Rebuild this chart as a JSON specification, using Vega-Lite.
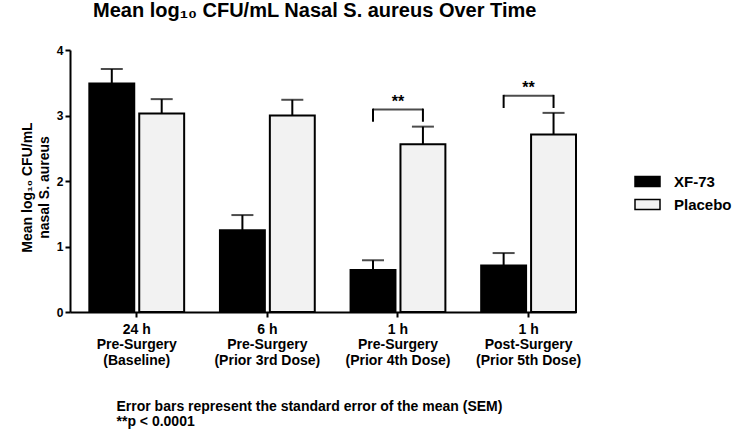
{
  "$schema": "https://vega.github.io/schema/vega-lite/v6.json",
  "width": 506,
  "height": 262,
  "autosize": {"type": "none"},
  "padding": {"left": 70, "top": 50, "right": 161, "bottom": 119},
  "background": "white",
  "config": {
    "view": {"stroke": null},
    "font": "Liberation Sans",
    "axis": {
      "domainColor": "black", "domainWidth": 2, "tickColor": "black", "tickWidth": 2, "tickSize": 5,
      "labelFont": "Liberation Sans", "labelFontWeight": "bold", "labelColor": "black",
      "titleFont": "Liberation Sans", "titleFontWeight": "bold", "titleColor": "black", "grid": false
    }
  },
  "title": {
    "text": "Mean log₁₀ CFU/mL Nasal S. aureus Over Time",
    "anchor": "start", "dx": 23, "fontSize": 20, "font": "Liberation Sans", "fontWeight": "bold",
    "color": "black", "baseline": "alphabetic", "offset": 7, "frame": "group"
  },
  "datasets": {
    "bars": [
      {"cat": "24 h|Pre-Surgery|(Baseline)", "group": "XF-73", "mean": 3.49, "upper": 3.71},
      {"cat": "24 h|Pre-Surgery|(Baseline)", "group": "Placebo", "mean": 3.03, "upper": 3.25},
      {"cat": "6 h|Pre-Surgery|(Prior 3rd Dose)", "group": "XF-73", "mean": 1.25, "upper": 1.48},
      {"cat": "6 h|Pre-Surgery|(Prior 3rd Dose)", "group": "Placebo", "mean": 3.0, "upper": 3.24},
      {"cat": "1 h|Pre-Surgery|(Prior 4th Dose)", "group": "XF-73", "mean": 0.64, "upper": 0.79},
      {"cat": "1 h|Pre-Surgery|(Prior 4th Dose)", "group": "Placebo", "mean": 2.56, "upper": 2.83},
      {"cat": "1 h|Post-Surgery|(Prior 5th Dose)", "group": "XF-73", "mean": 0.71, "upper": 0.9},
      {"cat": "1 h|Post-Surgery|(Prior 5th Dose)", "group": "Placebo", "mean": 2.71, "upper": 3.04}
    ],
    "legs": [
      {"cat": "1 h|Pre-Surgery|(Prior 4th Dose)", "group": "XF-73", "lo": 2.92, "hi": 3.09},
      {"cat": "1 h|Pre-Surgery|(Prior 4th Dose)", "group": "Placebo", "lo": 2.92, "hi": 3.09},
      {"cat": "1 h|Post-Surgery|(Prior 5th Dose)", "group": "XF-73", "lo": 3.13, "hi": 3.3},
      {"cat": "1 h|Post-Surgery|(Prior 5th Dose)", "group": "Placebo", "lo": 3.13, "hi": 3.3}
    ],
    "tops": [
      {"cat": "1 h|Pre-Surgery|(Prior 4th Dose)", "hi": 3.09, "star": 3.21, "sig": "**"},
      {"cat": "1 h|Post-Surgery|(Prior 5th Dose)", "hi": 3.3, "star": 3.415, "sig": "**"}
    ]
  },
  "layer": [
    {
      "data": {"name": "bars"},
      "mark": {"type": "bar", "stroke": "black", "strokeWidth": 2},
      "encoding": {
        "x": {
          "field": "cat", "type": "nominal",
          "scale": {
            "domain": ["24 h|Pre-Surgery|(Baseline)", "6 h|Pre-Surgery|(Prior 3rd Dose)", "1 h|Pre-Surgery|(Prior 4th Dose)", "1 h|Post-Surgery|(Prior 5th Dose)"],
            "paddingInner": 0.274, "paddingOuter": 0.074, "align": 1
          },
          "axis": {
            "labelExpr": "split(datum.label, '|')", "labelAngle": 0, "labelFontSize": 14,
            "labelLineHeight": 15.5, "labelPadding": 5, "labelBaseline": "top",
            "title": ["Error bars represent the standard error of the mean (SEM)", "**p < 0.0001"],
            "titleFontSize": 14, "titleLineHeight": 15, "titleX": 46, "titleY": 98,
            "titleAlign": "left", "titleBaseline": "alphabetic", "titleAnchor": "start"
          }
        },
        "xOffset": {
          "field": "group", "type": "nominal",
          "scale": {"domain": ["XF-73", "Placebo"], "paddingInner": 0.1, "paddingOuter": 0}
        },
        "y": {
          "field": "mean", "type": "quantitative",
          "scale": {"domain": [0, 4], "nice": false},
          "axis": {
            "values": [0, 1, 2, 3, 4], "format": "d", "labelFontSize": 12, "labelPadding": 2,
            "title": ["Mean log₁₀ CFU/mL", "nasal S. aureus"],
            "titleFontSize": 14, "titleLineHeight": 17, "titleX": -39, "titleY": 137,
            "titleAngle": -90, "titleAlign": "center", "titleBaseline": "alphabetic"
          }
        },
        "fill": {
          "field": "group", "type": "nominal",
          "scale": {"domain": ["XF-73", "Placebo"], "range": ["black", "#f2f2f2"]},
          "legend": {
            "title": null, "orient": "none", "legendX": 570, "legendY": 124, "padding": 0,
            "symbolType": "M-2.5,-1H2.5V1H-2.5Z", "symbolSize": 100,
            "symbolStrokeColor": "black", "symbolStrokeWidth": 1.5,
            "labelFontSize": 15, "labelFont": "Liberation Sans", "labelFontWeight": "bold",
            "labelColor": "black", "rowPadding": 6, "labelOffset": 19
          }
        }
      }
    },
    {
      "data": {"name": "bars"},
      "mark": {"type": "rule", "strokeWidth": 2, "color": "black"},
      "encoding": {
        "x": {"field": "cat", "type": "nominal"},
        "xOffset": {"field": "group", "type": "nominal"},
        "y": {"field": "mean", "type": "quantitative"},
        "y2": {"field": "upper"}
      }
    },
    {
      "data": {"name": "bars"},
      "mark": {"type": "tick", "orient": "horizontal", "size": 22, "thickness": 2, "color": "black"},
      "encoding": {
        "x": {"field": "cat", "type": "nominal"},
        "xOffset": {"field": "group", "type": "nominal"},
        "y": {"field": "upper", "type": "quantitative"}
      }
    },
    {
      "data": {"name": "legs"},
      "mark": {"type": "rule", "strokeWidth": 2, "color": "black", "strokeCap": "square"},
      "encoding": {
        "x": {"field": "cat", "type": "nominal"},
        "xOffset": {"field": "group", "type": "nominal"},
        "y": {"field": "lo", "type": "quantitative"},
        "y2": {"field": "hi"}
      }
    },
    {
      "data": {"name": "tops"},
      "mark": {"type": "tick", "orient": "horizontal", "size": 50, "thickness": 2, "color": "black"},
      "encoding": {
        "x": {"field": "cat", "type": "nominal"},
        "y": {"field": "hi", "type": "quantitative"}
      }
    },
    {
      "data": {"name": "tops"},
      "mark": {"type": "text", "fontSize": 16, "fontWeight": "bold", "baseline": "middle", "color": "black", "font": "Liberation Sans"},
      "encoding": {
        "x": {"field": "cat", "type": "nominal"},
        "y": {"field": "star", "type": "quantitative"},
        "text": {"field": "sig"}
      }
    }
  ]
}
